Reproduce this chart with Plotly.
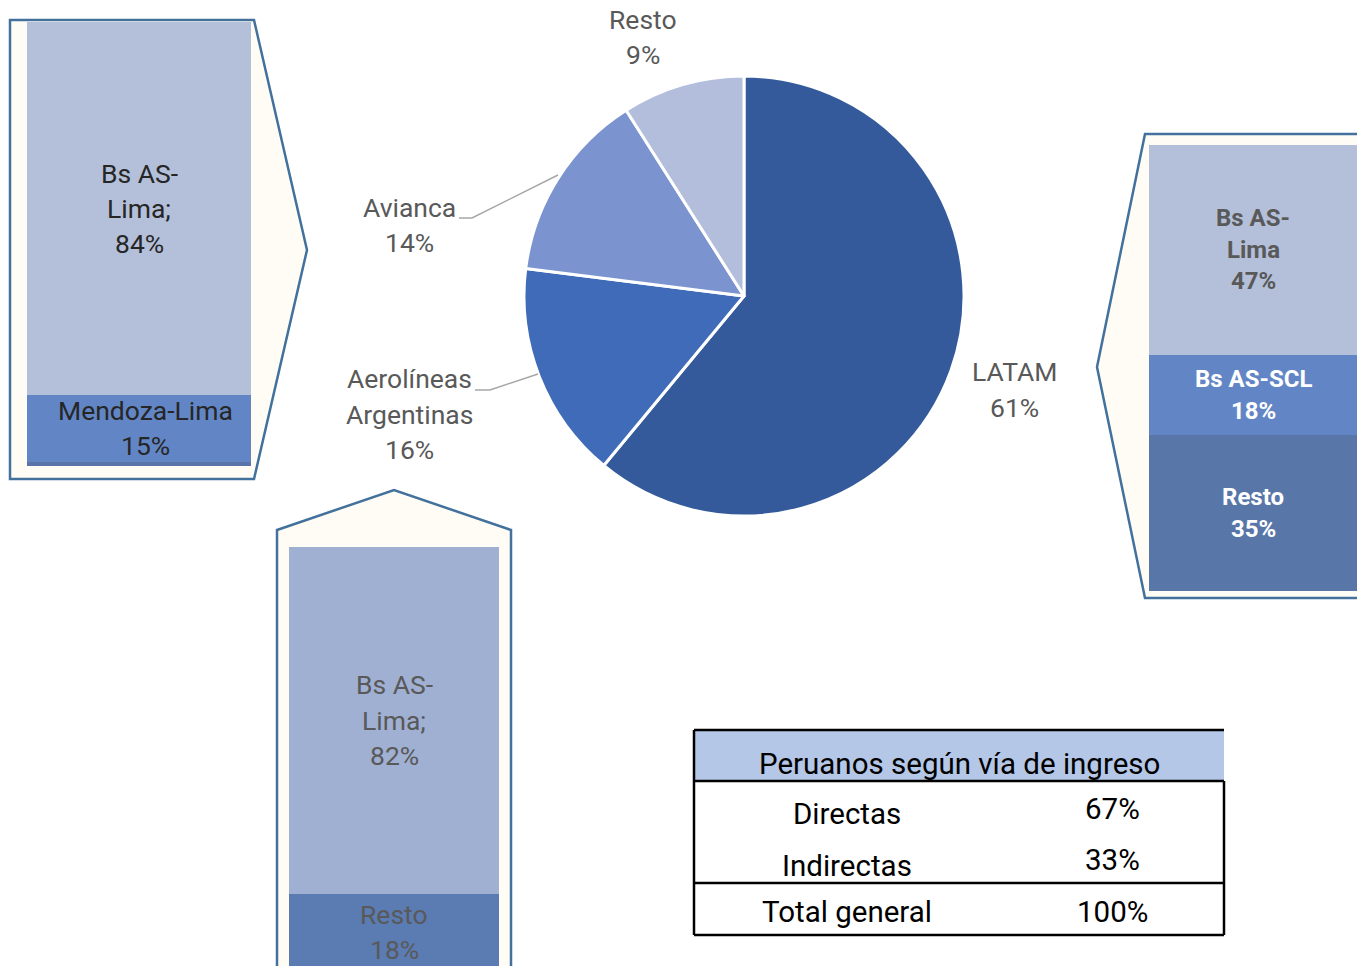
import plotly.graph_objects as go

# ---------------- data ----------------
airlines = ["LATAM", "Aerolíneas<br>Argentinas", "Avianca", "Resto"]
airline_share = [61, 16, 14, 9]
airline_colors = ["#345A9B", "#3F6BB8", "#7B93CF", "#B3BEDD"]

# Avianca routes (left box), bottom -> top
avianca_routes = ["", "Mendoza-Lima", "Bs AS-<br>Lima;"]
avianca_share = [1, 15, 84]
avianca_colors = ["#5874A8", "#6286C5", "#B4C0DA"]

# LATAM routes (right box), bottom -> top
latam_routes = ["Resto", "Bs AS-SCL", "Bs AS-<br>Lima"]
latam_share = [35, 18, 47]
latam_colors = ["#5876A8", "#6286C5", "#B4C0DA"]
latam_text_colors = ["#FFFFFF", "#FFFFFF", "#595959"]

# Aerolíneas Argentinas routes (bottom box), bottom -> top
aero_routes = ["Resto", "Bs AS-<br>Lima;"]
aero_share = [18, 82]
aero_colors = ["#5B7BB3", "#A0B0D2"]

table_title = "Peruanos según vía de ingreso"
table_rows = ["Directas", "Indirectas", "Total general"]
table_vals = ["67%", "33%", "100%"]

# ---------------- helpers ----------------
W, H = 1357, 966
FONT = "Roboto"


def px(x):
    return x / W


def py(y):
    return 1 - y / H


def path(points, close=True):
    s = "M " + " L ".join(f"{px(x):.5f},{py(y):.5f}" for x, y in points)
    return s + (" Z" if close else "")


fig = go.Figure()


def add_lines(text, x, y, xref, yref, size, color, pitch, bold=False, xshift=0):
    lines = text.split("<br>")
    n = len(lines)
    for i, ln in enumerate(lines):
        t = f"<b>{ln}</b>" if bold else ln
        fig.add_annotation(
            x=x, y=y, xref=xref, yref=yref, text=t, showarrow=False,
            xanchor="center", yanchor="middle",
            yshift=-(i - (n - 1) / 2) * pitch, xshift=xshift,
            font=dict(family=FONT, size=size, color=color),
        )


# pie
fig.add_trace(go.Pie(
    labels=[a.replace("<br>", " ") for a in airlines], values=airline_share,
    sort=False, direction="clockwise", rotation=0,
    marker=dict(colors=airline_colors, line=dict(color="white", width=3)),
    textinfo="none", hoverinfo="label+percent",
    domain=dict(x=[px(744 - 220), px(744 + 220)], y=[py(296 + 220), py(296 - 220)]),
    showlegend=False,
))


def add_stack(values, colors, axis_n):
    for v, c in zip(values, colors):
        fig.add_trace(go.Bar(
            x=[0], y=[v], width=1, marker=dict(color=c, line=dict(width=0)),
            xaxis=f"x{axis_n}", yaxis=f"y{axis_n}", showlegend=False,
            hoverinfo="y",
        ))


def add_stack_labels(names, values, axis_n, colors, size, pitch, bold=False, xshifts=None):
    cum = 0
    for i, (n, v) in enumerate(zip(names, values)):
        mid = cum + v / 2
        cum += v
        if not n:
            continue
        xs = xshifts[i] if xshifts else 0
        add_lines(f"{n}<br>{v}%", 0, mid, f"x{axis_n}", f"y{axis_n}",
                  size, colors[i], pitch, bold=bold, xshift=xs)


add_stack(avianca_share, avianca_colors, 2)
add_stack(latam_share, latam_colors, 3)
add_stack(aero_share, aero_colors, 4)

add_stack_labels(avianca_routes, avianca_share, 2, ["#262626"] * 3, 26.5, 35,
                 xshifts=[0, 6, 0])
add_stack_labels(latam_routes, latam_share, 3, latam_text_colors, 24, 31.5, bold=True)
add_stack_labels(aero_routes, aero_share, 4, ["#595959"] * 2, 26.5, 35.5)

axis_common = dict(visible=False, showgrid=False, zeroline=False, fixedrange=True)
fig.update_layout(
    xaxis2=dict(domain=[px(27), px(251)], range=[-0.5, 0.5], anchor="y2", **axis_common),
    yaxis2=dict(domain=[py(466), py(22)], range=[0, 100], anchor="x2", **axis_common),
    xaxis3=dict(domain=[px(1149), 1.0], range=[-0.5, 0.5], anchor="y3", **axis_common),
    yaxis3=dict(domain=[py(591), py(145)], range=[0, 100], anchor="x3", **axis_common),
    xaxis4=dict(domain=[px(289), px(499)], range=[-0.5, 0.5], anchor="y4", **axis_common),
    yaxis4=dict(domain=[0, py(547)], range=[0.95, 100], anchor="x4", **axis_common),
)

# callout pentagons
shapes = []
callout_line = dict(color="#41719C", width=2.5)
cream = "#FFFCF5"
for pts in [
    [(10, 20), (254, 20), (307, 250), (254, 479), (10, 479)],
    [(1145, 134), (1362, 134), (1362, 598), (1145, 598), (1097, 367)],
    [(277, 530), (394, 490), (511, 530), (511, 975), (277, 975)],
]:
    shapes.append(dict(type="path", path=path(pts), xref="paper", yref="paper",
                       fillcolor=cream, line=callout_line, layer="below"))

# leader lines
for pts in [[(459, 218), (472, 218), (558, 175)], [(475, 390), (490, 390), (538, 374)]]:
    shapes.append(dict(type="path", path=path(pts, close=False), xref="paper", yref="paper",
                       line=dict(color="#A6A6A6", width=1.5)))

# pie labels
label_pos = [(1015, 389.5), (409, 414), (409, 225), (643, 37)]
for name, v, (x, y) in zip(airlines, airline_share, label_pos):
    add_lines(f"{name}<br>{v}%", px(x), py(y), "paper", "paper", 26.5, "#595959", 35.5)

# table
shapes.append(dict(type="rect", xref="paper", yref="paper",
                   x0=px(694), x1=px(1224), y0=py(781), y1=py(731),
                   fillcolor="#B4C7E7", line=dict(width=0), layer="below"))
blk = dict(color="#000000", width=2.5)
for (x0, y0, x1, y1) in [
    (694, 730, 1224, 730), (694, 781, 1224, 781), (694, 883, 1224, 883),
    (694, 935, 1224, 935), (694, 730, 694, 935), (1224, 781, 1224, 935),
]:
    shapes.append(dict(type="line", xref="paper", yref="paper",
                       x0=px(x0), x1=px(x1), y0=py(y0), y1=py(y1), line=blk))

fig.add_annotation(x=px(959), y=py(764), xref="paper", yref="paper",
                   text=table_title, showarrow=False, xanchor="center", yanchor="middle",
                   font=dict(family=FONT, size=29.5, color="#000000"))
row_y = [(814, 809), (866, 860), (912, 912)]
for r, v, (yl, yv) in zip(table_rows, table_vals, row_y):
    fig.add_annotation(x=px(847), y=py(yl), xref="paper", yref="paper",
                       text=r, showarrow=False, xanchor="center", yanchor="middle",
                       font=dict(family=FONT, size=29.5, color="#000000"))
    fig.add_annotation(x=px(1112), y=py(yv), xref="paper", yref="paper",
                       text=v, showarrow=False, xanchor="center", yanchor="middle",
                       font=dict(family=FONT, size=29.5, color="#000000"))

fig.update_layout(
    width=W, height=H, margin=dict(l=0, r=0, t=0, b=0),
    paper_bgcolor="white", plot_bgcolor="rgba(0,0,0,0)",
    barmode="stack", bargap=0, shapes=shapes, showlegend=False,
    font=dict(family=FONT),
)

fig.write_html("out.html", config={"displayModeBar": False},
               post_script="document.body.style.margin='0px';document.body.style.overflow='hidden';")
